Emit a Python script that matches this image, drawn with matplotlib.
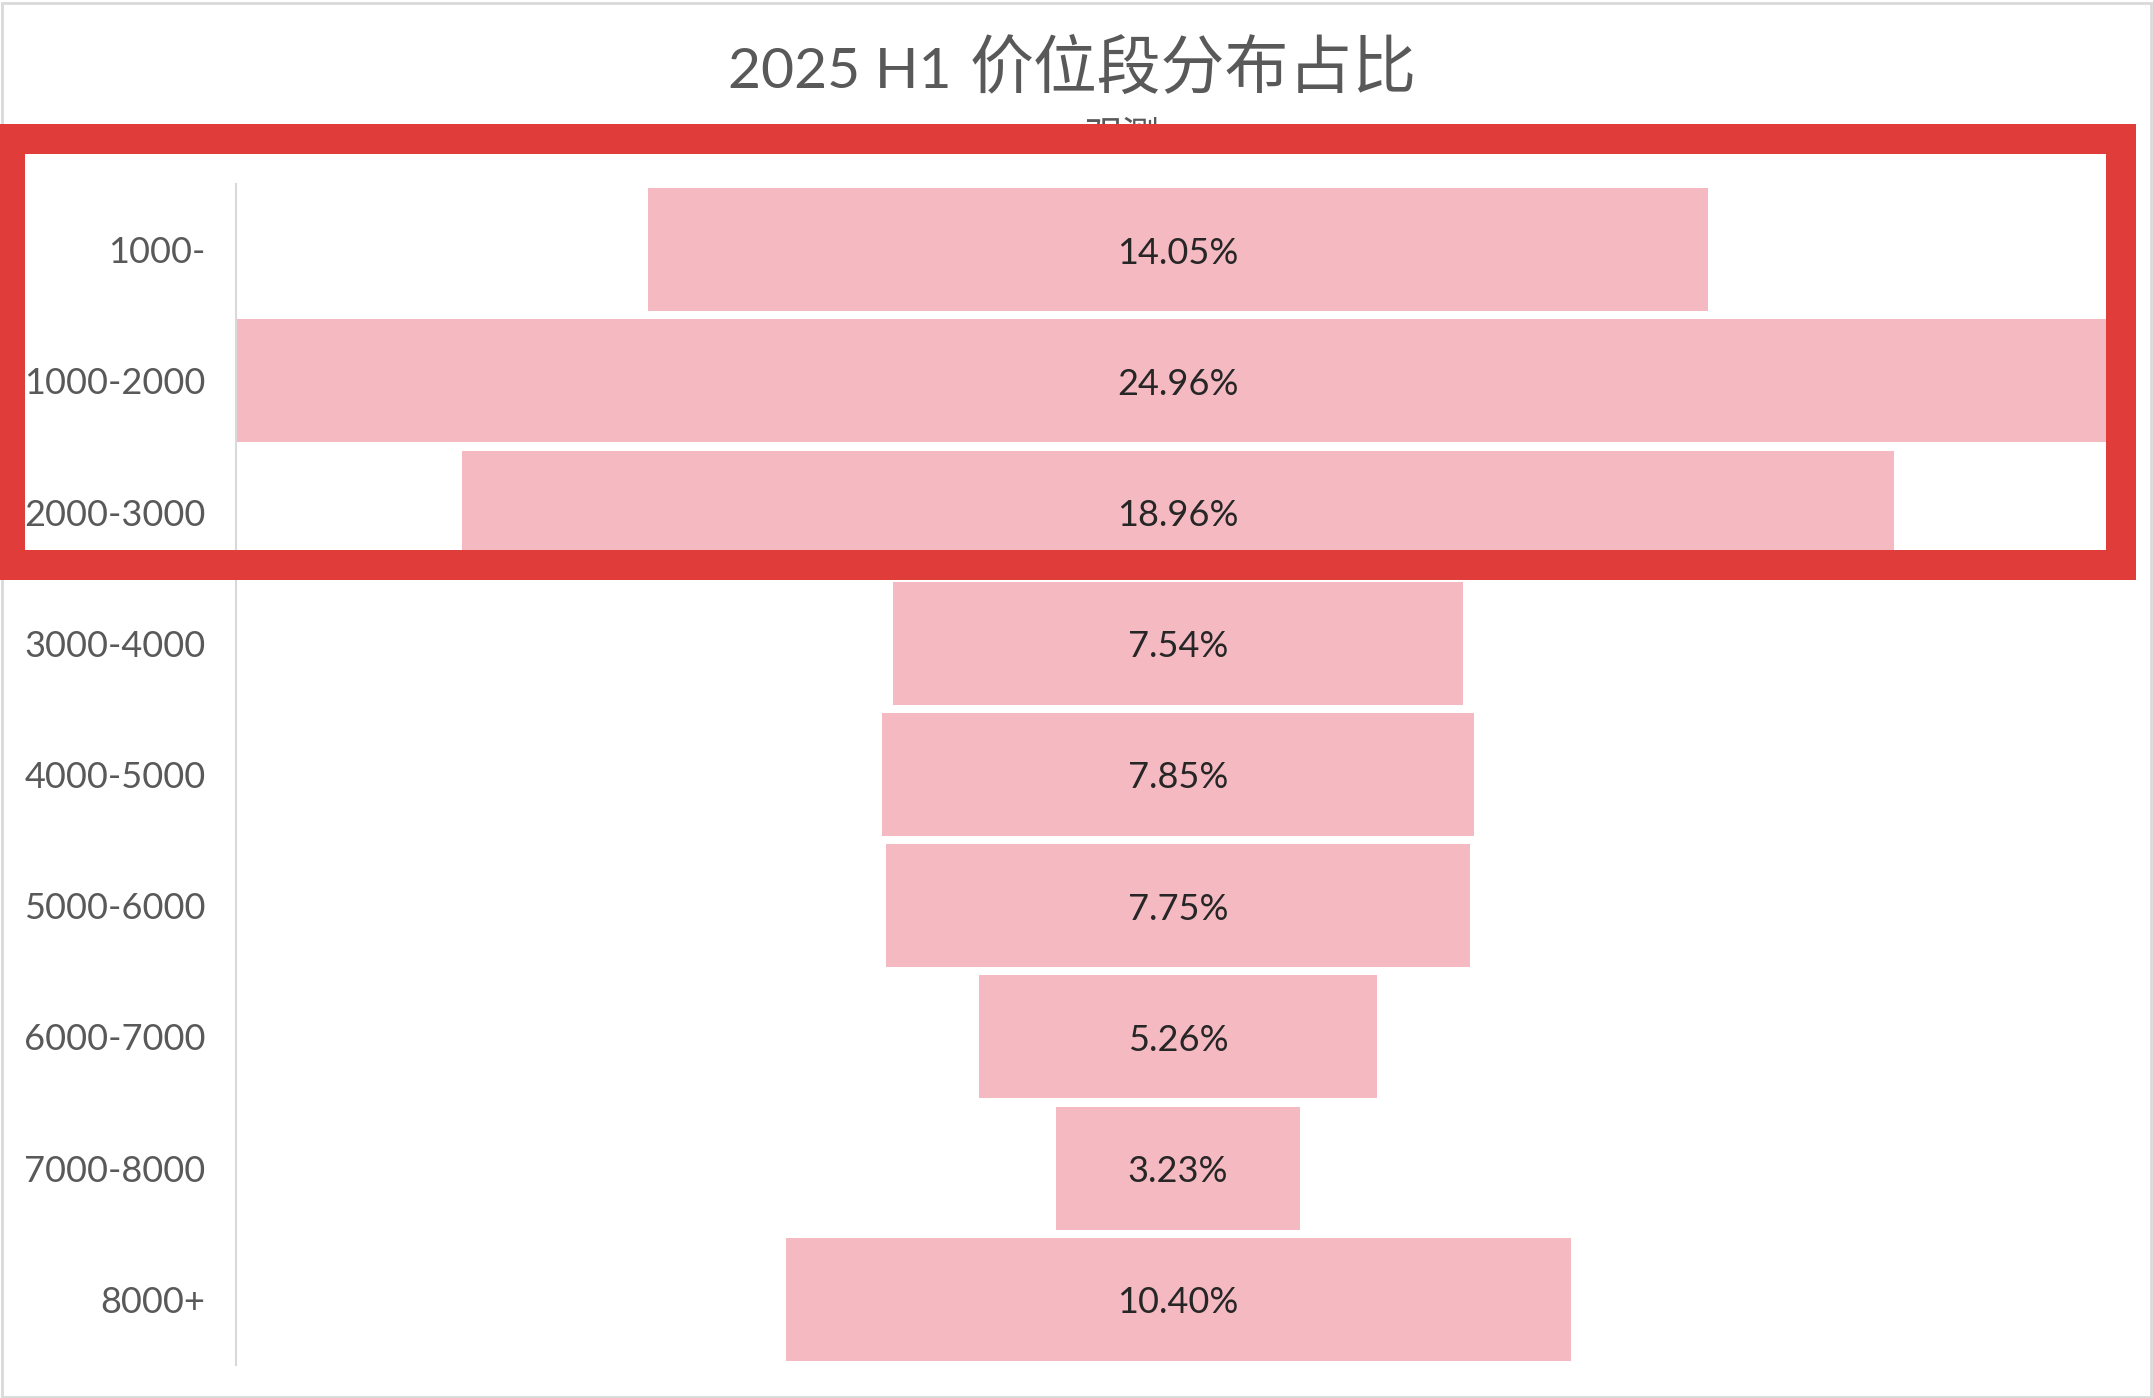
import matplotlib.pyplot as plt
from matplotlib.patches import Rectangle

# Datos
categorias = ["1000-", "1000-2000", "2000-3000", "3000-4000", "4000-5000",
              "5000-6000", "6000-7000", "7000-8000", "8000+"]
porcentajes = [14.05, 24.96, 18.96, 7.54, 7.85, 7.75, 5.26, 3.23, 10.40]
titulo_num = "2025 H1"
titulo_cjk = "价位段分布占比"
subtitulo = "观测"

W, H = 2153, 1398
rosa = "#F4B9C1"
rojo = "#E03C3A"
gris = "#595959"

fig = plt.figure(figsize=(W / 100, H / 100), dpi=100)
fig.patch.set_facecolor("white")

# Eje del embudo (en pixeles de la figura)
izq, der, arriba, abajo = 236, 2120, 184, 1365
ax = fig.add_axes([izq / W, 1 - abajo / H, (der - izq) / W, (abajo - arriba) / H])

y = list(range(len(categorias)))
izquierdas = [-p / 2 for p in porcentajes]
ax.barh(y, porcentajes, left=izquierdas, height=0.937, color=rosa, zorder=2)
for yi, p in zip(y, porcentajes):
    ax.annotate(f"{p:.2f}%", (0, yi), xytext=(0, -2.5), textcoords="offset points",
                ha="center", va="center", fontsize=26,
                color="#262626", family=["Lato", "DejaVu Sans"], zorder=3)

mitad = max(porcentajes) / 2
ax.set_xlim(-mitad, mitad)
ax.set_ylim(len(categorias) - 0.5, -0.5)
ax.set_yticks(y)
ax.set_yticklabels(categorias, fontsize=26, color=gris, family=["Lato", "DejaVu Sans"])
for t in ax.get_yticklabels():
    t.set_va("center_baseline")
ax.set_xticks([])
ax.tick_params(axis="y", length=0, pad=22)
for lado in ["top", "right", "bottom"]:
    ax.spines[lado].set_visible(False)
ax.spines["left"].set_color("#D9D9D9")
ax.spines["left"].set_linewidth(1.5)
ax.set_facecolor("none")

# Titulo (numeros y caracteres chinos por separado)
fig.text(952 / W, 1 - 88 / H, titulo_num, ha="right", va="baseline", fontsize=41,
         color=gris, family=["Lato", "DejaVu Sans"])
fig.text(970 / W, 1 - 88 / H, titulo_cjk, ha="left", va="baseline", fontsize=46,
         color=gris, family=["Noto Sans CJK SC", "DejaVu Sans"], weight="light")
fig.text(1122 / W, 1 - 117 / H, subtitulo, ha="center", va="top", fontsize=27,
         color=gris, family=["Noto Sans CJK SC", "DejaVu Sans"], zorder=1)

# Borde gris de la imagen
fig.add_artist(Rectangle((1.5 / W, 1.5 / H), (W - 4) / W, (H - 4) / H,
                         transform=fig.transFigure, fill=False,
                         edgecolor="#D9D9D9", linewidth=2, zorder=5))

# Marco rojo (cuatro bandas)
bandas = [
    (0, 124, 2136, 154),     # arriba
    (0, 550, 2136, 580),     # abajo
    (0, 124, 25, 580),       # izquierda
    (2106, 124, 2136, 580),  # derecha
]
for x0, y0, x1, y1 in bandas:
    fig.add_artist(Rectangle((x0 / W, 1 - y1 / H), (x1 - x0) / W, (y1 - y0) / H,
                             transform=fig.transFigure, facecolor=rojo,
                             edgecolor="none", zorder=10))

fig.savefig("out.png", dpi=100, facecolor="white")
